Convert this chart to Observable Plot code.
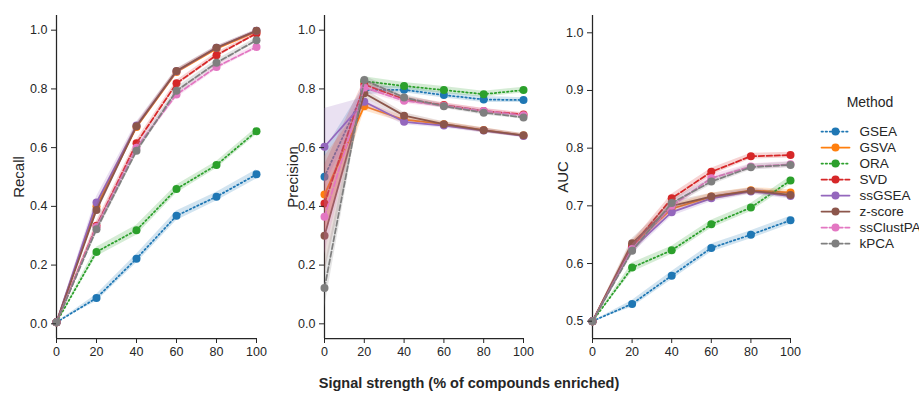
<!DOCTYPE html>
<html><head><meta charset="utf-8">
<script src="https://cdn.jsdelivr.net/npm/d3@7"></script>
<script src="https://cdn.jsdelivr.net/npm/@observablehq/plot@0.6"></script>
<style>
body{margin:0;background:#fff;font-family:"Liberation Sans",Arial,sans-serif;}
#wrap{position:relative;width:919px;height:394px;overflow:hidden}
.p{position:absolute;top:0}
.yl{position:absolute;transform:translate(-50%,-50%) rotate(-90deg);font-size:15px;color:#262626;white-space:nowrap}
.xl{position:absolute;transform:translate(-50%,-50%);font-size:14.5px;font-weight:bold;color:#262626;white-space:nowrap}
.lt{position:absolute;transform:translate(-50%,-50%);font-size:14px;color:#262626;white-space:nowrap}
</style></head><body><div id="wrap"></div>
<script>
const methods = ["GSEA","GSVA","ORA","SVD","ssGSEA","z-score","ssClustPA","kPCA"];
const signal = [0,20,40,60,80,100];
const xTicks = [0,20,40,60,80,100];
const recallTicks = [0,0.2,0.4,0.6,0.8,1.0];
const precisionTicks = [0,0.2,0.4,0.6,0.8,1.0];
const aucTicks = [0.5,0.6,0.7,0.8,0.9,1.0];

// rows follow the order of `methods`
const recall = [
  [0.005,0.088,0.222,0.368,0.433,0.509],
  [0.005,0.400,0.670,0.858,0.937,0.995],
  [0.005,0.245,0.319,0.459,0.541,0.656],
  [0.005,0.334,0.615,0.819,0.915,0.989],
  [0.005,0.413,0.675,0.860,0.940,0.998],
  [0.005,0.388,0.673,0.861,0.940,0.998],
  [0.005,0.330,0.600,0.781,0.875,0.943],
  [0.005,0.322,0.589,0.794,0.889,0.966]
];
const recallCI = [
  [0,0.012,0.015,0.016,0.015,0.016],
  [0,0.015,0.010,0.008,0.006,0.004],
  [0,0.016,0.017,0.014,0.012,0.012],
  [0,0.015,0.012,0.010,0.008,0.006],
  [0,0.020,0.012,0.008,0.006,0.004],
  [0,0.015,0.010,0.008,0.006,0.004],
  [0,0.015,0.012,0.012,0.010,0.008],
  [0,0.015,0.012,0.012,0.010,0.008]
];
const precision = [
  [0.501,0.796,0.797,0.779,0.764,0.762],
  [0.440,0.741,0.695,0.680,0.660,0.641],
  [null, 0.826,0.810,0.796,0.782,0.796],
  [0.410,0.815,0.765,0.745,0.725,0.713],
  [0.603,0.756,0.688,0.675,0.658,0.640],
  [0.300,0.785,0.709,0.680,0.659,0.642],
  [0.365,0.805,0.760,0.743,0.725,0.710],
  [0.122,0.830,0.771,0.741,0.719,0.703]
];
const precisionCI = [
  [0.09,0.015,0.010,0.010,0.010,0.008],
  [0.13,0.015,0.010,0.008,0.008,0.006],
  [0,   0.015,0.012,0.012,0.010,0.010],
  [0.13,0.015,0.010,0.008,0.008,0.006],
  [0.13,0.015,0.010,0.008,0.008,0.006],
  [0.13,0.015,0.010,0.008,0.008,0.006],
  [0.13,0.015,0.010,0.008,0.008,0.006],
  [0.07,0.015,0.010,0.008,0.008,0.006]
];
const auc = [
  [0.500,0.530,0.579,0.627,0.650,0.675],
  [0.500,0.630,0.695,0.716,0.727,0.723],
  [0.500,0.593,0.623,0.668,0.697,0.744],
  [0.500,0.630,0.713,0.759,0.786,0.788],
  [0.500,0.625,0.689,0.713,0.725,0.717],
  [0.500,0.635,0.700,0.716,0.726,0.719],
  [0.500,0.625,0.700,0.748,0.768,0.772],
  [0.500,0.622,0.705,0.742,0.767,0.771]
];
const aucCI = [
  [0,0.006,0.007,0.007,0.007,0.007],
  [0,0.008,0.007,0.006,0.005,0.005],
  [0,0.008,0.007,0.007,0.007,0.007],
  [0,0.008,0.007,0.006,0.005,0.005],
  [0,0.008,0.007,0.006,0.005,0.005],
  [0,0.008,0.007,0.006,0.005,0.005],
  [0,0.008,0.007,0.006,0.005,0.005],
  [0,0.008,0.007,0.006,0.005,0.005]
];

const colors = ["#1f77b4","#ff7f0e","#2ca02c","#d62728","#9467bd","#8c564b","#e377c2","#7f7f7f"];
const dashes = ["1.5,2.6", null, "1.5,2.6", "5.5,2.4", null, null, "5.5,2.4", "5.5,2.4"];

const wrap = document.getElementById("wrap");
const axisColor = "#262626";

function panel(values, ci, yDomain, yTicks, left, mLeft, mRight) {
  const rows = [];
  methods.forEach((m, i) => signal.forEach((s, j) => {
    const v = values[i][j];
    if (v == null) return;
    rows.push({method: m, x: s, y: v, lo: v - ci[i][j], hi: v + ci[i][j]});
  }));
  const marks = [
    Plot.ruleX([0], {stroke: axisColor, strokeWidth: 1.25}),
    Plot.ruleY([yDomain[0]], {stroke: axisColor, strokeWidth: 1.25})
  ];
  methods.forEach((m, i) => {
    const d = rows.filter(r => r.method === m);
    marks.push(Plot.areaY(d, {x: "x", y1: "lo", y2: "hi", fill: colors[i], fillOpacity: 0.2}));
    marks.push(Plot.line(d, {x: "x", y: "y", stroke: colors[i], strokeWidth: 1.75, strokeDasharray: dashes[i] || undefined}));
    marks.push(Plot.dot(d, {x: "x", y: "y", r: 4, fill: colors[i]}));
  });
  marks.push(Plot.axisX({ticks: xTicks, tickSize: 5, tickPadding: 4, label: null, tickFormat: d3.format("d"), stroke: axisColor}));
  marks.push(Plot.axisY({ticks: yTicks, tickSize: 5, tickPadding: 4, label: null, tickFormat: d3.format(".1f"), stroke: axisColor}));
  const chart = Plot.plot({
    width: 270, height: 365,
    marginLeft: mLeft, marginRight: mRight, marginTop: 15, marginBottom: 27,
    x: {domain: [0, 100]},
    y: {domain: yDomain},
    style: {fontSize: "12.5px", fontFamily: '"Liberation Sans", Arial, sans-serif', color: axisColor, background: "transparent", overflow: "visible"},
    marks
  });
  chart.classList.add("p");
  chart.style.left = left + "px";
  wrap.appendChild(chart);
}

panel(recall, recallCI, [-0.05, 1.05], recallTicks, 0, 56, 14);
panel(precision, precisionCI, [-0.05, 1.05], precisionTicks, 270, 54, 17);
panel(auc, aucCI, [0.47, 1.03], aucTicks, 540, 52, 20);

function label(cls, text, x, y) {
  const d = document.createElement("div");
  d.className = cls; d.textContent = text;
  d.style.left = x + "px"; d.style.top = y + "px";
  wrap.appendChild(d);
}
label("yl", "Recall", 18, 177);
label("yl", "Precision", 292, 177);
label("yl", "AUC", 562, 177);
label("xl", "Signal strength (% of compounds enriched)", 469, 383);
label("lt", "Method", 870, 102);

// legend drawn with Plot
const legRows = [];
methods.forEach(m => { legRows.push({method: m, x: 0}); legRows.push({method: m, x: 1}); });
const legMarks = [];
methods.forEach((m, i) => {
  const d = legRows.filter(r => r.method === m);
  legMarks.push(Plot.line(d, {x: "x", y: "method", stroke: colors[i], strokeWidth: 1.75, strokeDasharray: dashes[i] || undefined}));
  legMarks.push(Plot.dot([{method: m, x: 0.5}], {x: "x", y: "method", r: 4, fill: colors[i]}));
  legMarks.push(Plot.text([{method: m, x: 1}], {x: "x", y: "method", text: "method", textAnchor: "start", dx: 10, fill: axisColor}));
});
const legend = Plot.plot({
  width: 104, height: 151,
  marginLeft: 6, marginRight: 70, marginTop: 10, marginBottom: 10,
  x: {domain: [0, 1], axis: null},
  y: {type: "point", domain: methods, axis: null},
  style: {fontSize: "13.5px", fontFamily: '"Liberation Sans", Arial, sans-serif', background: "transparent", overflow: "visible"},
  marks: legMarks
});
legend.classList.add("p");
legend.style.left = "815px";
legend.style.top = "111px";
wrap.appendChild(legend);
</script>
</body></html>
